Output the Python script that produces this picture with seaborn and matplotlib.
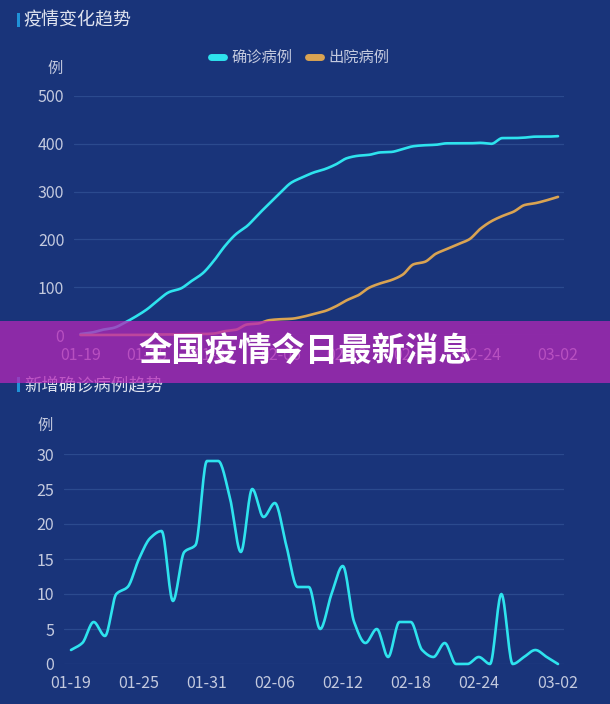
import numpy as np
import pandas as pd
import matplotlib
matplotlib.use("Agg")
import matplotlib.pyplot as plt
import seaborn as sns
from matplotlib.patches import Rectangle
from matplotlib.lines import Line2D

# ---------------- data ----------------
dates = ["01-19", "01-20", "01-21", "01-22", "01-23", "01-24", "01-25", "01-26",
         "01-27", "01-28", "01-29", "01-30", "01-31", "02-01", "02-02", "02-03",
         "02-04", "02-05", "02-06", "02-07", "02-08", "02-09", "02-10", "02-11",
         "02-12", "02-13", "02-14", "02-15", "02-16", "02-17", "02-18", "02-19",
         "02-20", "02-21", "02-22", "02-23", "02-24", "02-25", "02-26", "02-27",
         "02-28", "02-29", "03-01", "03-02"]

confirmed_total = [2, 5, 11, 15, 26, 39, 54, 73, 90, 97, 113, 129, 155, 186, 211,
                   228, 252, 275, 298, 319, 330, 340, 347, 357, 370, 375, 377, 382,
                   383, 389, 395, 397, 398, 401, 401, 401, 402, 400, 412, 412, 413,
                   415, 415, 416]

discharged_total = [0, 0, 0, 0, 0, 0, 0, 1, 1, 1, 2, 2, 3, 8, 11, 22, 24, 31, 33,
                    34, 38, 44, 50, 60, 73, 83, 99, 108, 115, 126, 148, 153, 170,
                    180, 190, 200, 222, 238, 249, 258, 272, 276, 282, 289]

daily_new = [2, 3, 6, 4, 10, 11, 15, 18, 19, 9, 16, 17, 29, 29, 24, 16, 25, 21, 23,
             17, 11, 11, 5, 10, 14, 6, 3, 5, 1, 6, 6, 2, 1, 3, 0, 0, 1, 0, 10, 0,
             1, 2, 1, 0]

tick_labels = ["01-19", "01-25", "01-31", "02-06", "02-12", "02-18", "02-24", "03-02"]
top_yticks = [0, 100, 200, 300, 400, 500]
bottom_yticks = [0, 5, 10, 15, 20, 25, 30]
series_names = ["确诊病例", "出院病例"]

# ---------------- style ----------------
BG = "#19347a"
GRID = "#2b4a8e"
TICK = "#c3c9de"
TITLE = "#dfe3ef"
CYAN = "#2ee3ee"
ORANGE = "#d9a352"
ACCENT = "#1f92d8"

sns.set_theme(style="dark")
plt.rcParams["font.family"] = ["Noto Sans CJK SC", "DejaVu Sans"]
plt.rcParams["axes.unicode_minus"] = False


def smooth_curve(values, n=16):
    """Monotone cubic rendering of a polyline (like a smoothed line chart)."""
    y = np.asarray(values, float)
    x = np.arange(len(y), dtype=float)
    d = np.diff(y)
    m = np.zeros_like(y)
    m[0], m[-1] = d[0], d[-1]
    for k in range(1, len(y) - 1):
        if d[k - 1] * d[k] <= 0:
            m[k] = 0.0
        else:
            m[k] = 2.0 / (1.0 / d[k - 1] + 1.0 / d[k])
    xs, ys = [], []
    t = np.linspace(0, 1, n, endpoint=False)
    h00 = 2 * t**3 - 3 * t**2 + 1
    h10 = t**3 - 2 * t**2 + t
    h01 = -2 * t**3 + 3 * t**2
    h11 = t**3 - t**2
    for k in range(len(y) - 1):
        xs.append(x[k] + t)
        ys.append(h00 * y[k] + h10 * m[k] + h01 * y[k + 1] + h11 * m[k + 1])
    xs.append([x[-1]])
    ys.append([y[-1]])
    return np.concatenate(xs), np.concatenate(ys)


W, H = 610, 704
fig = plt.figure(figsize=(W / 100, H / 100), dpi=100, facecolor=BG)


def fx(px):
    return px / W


def fy(py):
    return 1 - py / H


tick_pos = [dates.index(t) for t in tick_labels]

# ---------------- top chart ----------------
ax1 = fig.add_axes([fx(74), fy(335), fx(490), 239 / H])
ax1.set_facecolor(BG)
frames = []
for name, vals in zip(series_names, [confirmed_total, discharged_total]):
    xs, ys = smooth_curve(vals)
    frames.append(pd.DataFrame({"x": xs, "y": ys, "series": name}))
top_df = pd.concat(frames, ignore_index=True)
sns.lineplot(data=top_df, x="x", y="y", hue="series", palette=[CYAN, ORANGE],
             sort=False, estimator=None, linewidth=1.9, legend=False, ax=ax1)
ax1.set_xlim(-0.585, 43.54)
ax1.set_ylim(0, 500)
ax1.set_yticks(top_yticks)
ax1.set_xticks(tick_pos)
ax1.set_xticklabels(tick_labels)

# ---------------- bottom chart ----------------
ax2 = fig.add_axes([fx(64), fy(664), fx(500), 210 / H])
ax2.set_facecolor(BG)
xs, ys = smooth_curve(daily_new)
sns.lineplot(x=xs, y=ys, color=CYAN, sort=False, estimator=None,
             linewidth=1.9, ax=ax2)
ax2.set_xlim(-0.618, 43.53)
ax2.set_ylim(0, 30)
ax2.set_yticks(bottom_yticks)
ax2.set_xticks(tick_pos)
ax2.set_xticklabels(tick_labels)

for ax, xpad in [(ax1, 8.5), (ax2, 8.0)]:
    ax.set_xlabel("")
    ax.set_ylabel("")
    for s in ax.spines.values():
        s.set_visible(False)
    ax.grid(False)
    ax.grid(axis="y", color=GRID, linewidth=0.9)
    ax.set_axisbelow(True)
    ax.tick_params(axis="y", length=0, colors=TICK, labelsize=11.5, pad=7)
    ax.tick_params(axis="x", length=0, colors=TICK, labelsize=11.5, pad=xpad)
    for ln in ax.lines:
        ln.set_clip_on(False)
        ln.set_solid_capstyle("round")

# ---------------- titles / legend / units ----------------
fig.add_artist(Rectangle((fx(17), fy(27)), 2.5 / W, 14 / H,
                         transform=fig.transFigure, color=ACCENT, lw=0))
fig.text(fx(23), fy(20.5), "疫情变化趋势", ha="left", va="center",
         fontsize=13, color=TITLE)
fig.text(fx(55), fy(68.5), "例", ha="center", va="center", fontsize=11, color=TICK)

handles = [Line2D([0], [0], color=CYAN, lw=5, solid_capstyle="round"),
           Line2D([0], [0], color=ORANGE, lw=5, solid_capstyle="round")]
fig.legend(handles, series_names, loc="center", bbox_to_anchor=(fx(300), fy(57.5)),
           ncol=2, frameon=False, fontsize=11, labelcolor=TICK,
           handlelength=0.85, handletextpad=0.5, columnspacing=1.0)

fig.add_artist(Rectangle((fx(17), fy(392)), 2.5 / W, 15 / H,
                         transform=fig.transFigure, color=ACCENT, lw=0))
fig.text(fx(24), fy(385), "新增确诊病例趋势", ha="left", va="center",
         fontsize=12.5, color=TITLE)
fig.text(fx(45.5), fy(425), "例", ha="center", va="center", fontsize=11, color=TICK)

# ---------------- banner overlay ----------------
fig.add_artist(Rectangle((0, fy(383)), 1, 62 / H, transform=fig.transFigure,
                         color=(180 / 255, 39 / 255, 183 / 255), alpha=0.75,
                         lw=0, zorder=10))
fig.text(0.5, fy(352), "全国疫情今日最新消息", ha="center", va="center",
         fontsize=24, fontweight="bold", color="white", zorder=11)

fig.savefig("out.png", dpi=100, facecolor=BG)
